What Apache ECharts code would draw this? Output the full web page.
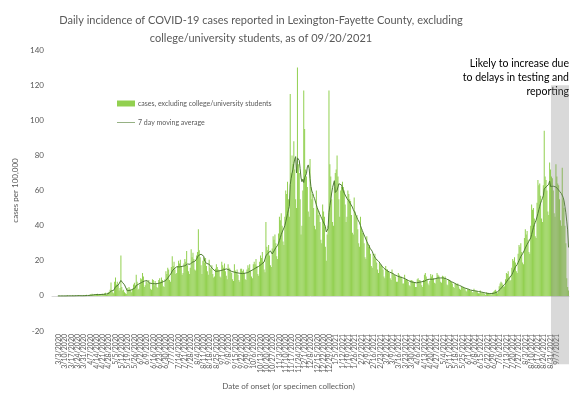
<!DOCTYPE html>
<html>
<head>
<meta charset="utf-8">
<script src="https://cdn.jsdelivr.net/npm/echarts@6/dist/echarts.min.js"></script>
<style>
  html, body { margin: 0; padding: 0; background: #fff; }
  #chart { width: 577px; height: 398px; }
</style>
</head>
<body>
<div id="chart"></div>
<script>
// daily cases per 100,000 from 2/25/2020, one row per week (Tue..Mon)
const startDate = [2020, 1, 25];
const dailyCases = [
  0,0,0,0,0,0,0,
  0,0,0,0,0,0,0,
  0,0,0,0.3,0,0,0,
  0,0.3,0,0,0,0.3,0,
  0,0.3,0.3,0,0,0,0.3,
  0.3,0,0.3,0.6,0,0,0.3,
  0.9,0.6,1.2,0.6,0.3,0.9,0.9,
  0.6,1.2,0.9,0.6,0.9,0.3,1.2,
  1.2,0.9,1.5,1.8,0.6,1.2,2.1,
  2.4,3.5,7.6,3.0,2.1,1.5,8.0,
  10.5,6.5,8.0,6.0,3.0,4.5,23.0,
  5.0,3.0,3.5,2.0,1.5,1.0,4.5,
  3.5,5.0,4.0,3.0,2.0,4.0,6.5,
  7.5,6.0,12.0,8.0,3.5,4.0,6.5,
  10.0,9.5,13.0,11.0,5.0,6.0,8.0,
  8.5,7.0,9.0,7.5,4.0,3.5,9.5,
  9.0,6.0,8.5,7.0,5.0,4.5,9.0,
  10.0,8.0,10.5,9.0,5.5,5.0,9.5,
  14.0,12.5,16.0,15.0,9.0,8.0,16.5,
  22.5,17.0,19.5,15.0,12.5,13.0,17.0,
  20.0,18.5,20.5,16.5,12.0,13.0,18.5,
  21.0,19.5,25.5,17.5,14.0,12.5,16.0,
  26.5,22.0,24.5,21.0,15.0,14.5,23.0,
  25.0,38.0,26.0,22.0,17.5,12.5,20.0,
  22.0,19.0,21.5,17.0,14.0,12.0,20.5,
  16.0,15.0,17.5,12.5,10.5,11.0,15.5,
  18.0,16.5,15.0,14.5,11.0,10.5,19.5,
  17.5,16.0,18.5,14.0,11.5,9.5,18.0,
  16.0,15.5,14.0,13.0,9.5,8.5,18.0,
  14.5,13.5,15.0,12.0,9.0,8.0,15.5,
  15.5,14.0,15.0,13.0,9.5,9.0,15.0,
  17.5,16.0,18.0,14.5,11.0,10.0,18.0,
  19.5,18.0,21.0,17.0,12.5,11.5,19.5,
  23.0,21.5,25.0,19.5,15.0,13.5,42.0,
  28.0,26.0,29.0,23.0,17.5,16.5,27.0,
  34.0,32.0,35.0,30.0,22.5,21.0,35.5,
  45.0,43.0,47.0,40.0,31.0,29.0,45.0,
  60,58,65,55,45,115,70,
  80,75,88,72,55,50,130,
  75,70,55,35,40,60,117,
  95,72,68,62,48,45,78,
  62,55,58,50,40,38,60,
  50,46,48,42,32,30,52,
  48,45,28,20,35,40,117,
  75,68,55,42,40,62,70,
  72,80,68,55,45,60,62,
  65,62,60,52,42,45,60,
  58,55,54,46,36,35,56,
  48,45,46,38,30,28,45,
  38,36,36,30,22,21,34,
  30,28,29,24,17,16,24,
  22,24,21,19,15,13,19,
  18,17,17,15,11,10,17,
  15,15,14,13,10,9,15,
  13,12,12,11,8,8,13,
  12,11,11,10,7,7,12,
  9.5,9,9,8,6,5.5,9,
  9,8.5,8,7.5,5,5,9.5,
  10,9,9,8,6,5,9,
  12,13,11,9,7,6,8.5,
  12.5,11,12,10,7.5,7,10,
  13,12,11.5,10,8,7.5,11.5,
  11,10,11,9,6.5,6,9.5,
  9,8.5,8,7,5,4.5,7,
  7,6.5,7,5.5,4,3.5,5,
  5,5,4.5,4,3,2.5,4,
  3.5,3.5,3,3,2,2,4,
  2.5,3,2.5,2,1.5,1.5,3,
  2,1.5,2,1.5,1,0.5,2,
  1.5,1.5,1.5,1,0.5,1,2,
  2.5,3,3.5,2.5,1.5,2.5,5.5,
  7,8,7.5,6.5,5,5.5,9.5,
  13,12.5,14,11,8.5,9,16,
  21,20,22,19,14,13,24,
  29,28,30,25,19,18,33,
  38,35,37,32,25,24,40,
  52,49,50,44,34,33,53,
  66,63,64,57,44,42,63,
  94,68,66,60,48,46,76,
  72,68,67,60,47,45,75,
  68,64,63,55,43,40,73,
  55,50,40,30,10,5,3
];
const yTicks = [-20, 0, 20, 40, 60, 80, 100, 120, 140];
const seriesNames = ['cases, excluding college/university students', '7 day moving average'];
const lagStart = '9/1/2021';

// date labels, one per day
const categories = [];
for (let i = 0; i < dailyCases.length; i++) {
  const d = new Date(startDate[0], startDate[1], startDate[2] + i);
  categories.push((d.getMonth() + 1) + '/' + d.getDate() + '/' + d.getFullYear());
}

// trailing 7 day average, like the excel trendline
const movingAvg = dailyCases.map(function (v, i) {
  if (i < 6) return null;
  let s = 0;
  for (let k = i - 6; k <= i; k++) s += dailyCases[k];
  return +(s / 7).toFixed(2);
});

const FONT = 'Lato';
const GREY = '#595959';

const chart = echarts.init(document.getElementById('chart'), null, { renderer: 'canvas' });

const option = {
  animation: false,
  backgroundColor: '#fff',
  textStyle: { fontFamily: FONT },
  legend: {
    orient: 'vertical',
    left: 112,
    top: 95,
    itemWidth: 18,
    itemHeight: 6,
    itemGap: 12,
    textStyle: { fontFamily: FONT, fontSize: 7, color: GREY, padding: [0, 0, 0, -2] },
    data: [
      { name: seriesNames[0], icon: 'rect' },
      { name: seriesNames[1], icon: 'path://M0,0h30v1h-30z' }
    ]
  },
  grid: { left: 52, right: 8, top: 50, bottom: 67, containLabel: false },
  xAxis: {
    type: 'category',
    data: categories,
    boundaryGap: true,
    axisLine: { onZero: true, lineStyle: { color: '#D9D9D9', width: 1 } },
    axisTick: { show: false },
    axisLabel: {
      interval: 6, rotate: 90, fontSize: 7, color: GREY, margin: 3,
      fontFamily: FONT, hideOverlap: false
    },
    splitLine: { show: false }
  },
  yAxis: {
    type: 'value',
    min: yTicks[0],
    max: yTicks[yTicks.length - 1],
    interval: 20,
    name: 'cases per 100,000',
    nameLocation: 'middle',
    nameGap: 30,
    nameTextStyle: { fontFamily: FONT, fontSize: 8, color: GREY },
    axisLine: { show: false },
    axisTick: { show: false },
    axisLabel: { fontSize: 8, color: GREY, margin: 8, fontFamily: FONT },
    splitLine: { show: false }
  },
  series: [
    {
      name: seriesNames[0],
      type: 'bar',
      data: dailyCases,
      barWidth: '100%',
      itemStyle: { color: '#92D050' }
    },
    {
      name: seriesNames[1],
      type: 'line',
      data: movingAvg,
      symbol: 'none',
      smooth: false,
      lineStyle: { color: '#507D32', width: 1 },
      itemStyle: { color: '#507D32' }
    }
  ],
  graphic: [
    {
      type: 'text',
      x: 261,
      y: 11,
      style: {
        text: 'Daily incidence of COVID-19 cases reported in Lexington-Fayette County, excluding\ncollege/university students, as of 09/20/2021',
        font: '11px ' + FONT, fill: GREY, align: 'center', lineHeight: 18
      }
    },
    {
      type: 'text',
      left: 'center',
      top: 382,
      style: { text: 'Date of onset (or specimen collection)', font: '8px ' + FONT, fill: GREY }
    },
    {
      type: 'text',
      x: 569,
      y: 57,
      style: {
        text: 'Likely to increase due\nto delays in testing and\nreporting',
        font: '10.5px ' + FONT, fill: '#000', align: 'right', lineHeight: 14
      }
    }
  ]
};

chart.setOption(option);

// grey shading over the last, incomplete days
const idx = categories.indexOf(lagStart);
const band = chart.convertToPixel({ xAxisIndex: 0 }, categories[1]) - chart.convertToPixel({ xAxisIndex: 0 }, categories[0]);
const x0 = chart.convertToPixel({ xAxisIndex: 0 }, categories[idx]) - band / 2;
const x1 = chart.convertToPixel({ xAxisIndex: 0 }, categories[categories.length - 1]) + band / 2;
const yTop = chart.convertToPixel({ yAxisIndex: 0 }, 120);
const yBot = chart.convertToPixel({ yAxisIndex: 0 }, -39);
chart.setOption({
  graphic: option.graphic.concat([{
    type: 'rect',
    z: 100,
    shape: { x: x0, y: yTop, width: x1 - x0, height: yBot - yTop },
    style: { fill: 'rgba(128,128,128,0.3)' }
  }])
});
</script>
</body>
</html>
